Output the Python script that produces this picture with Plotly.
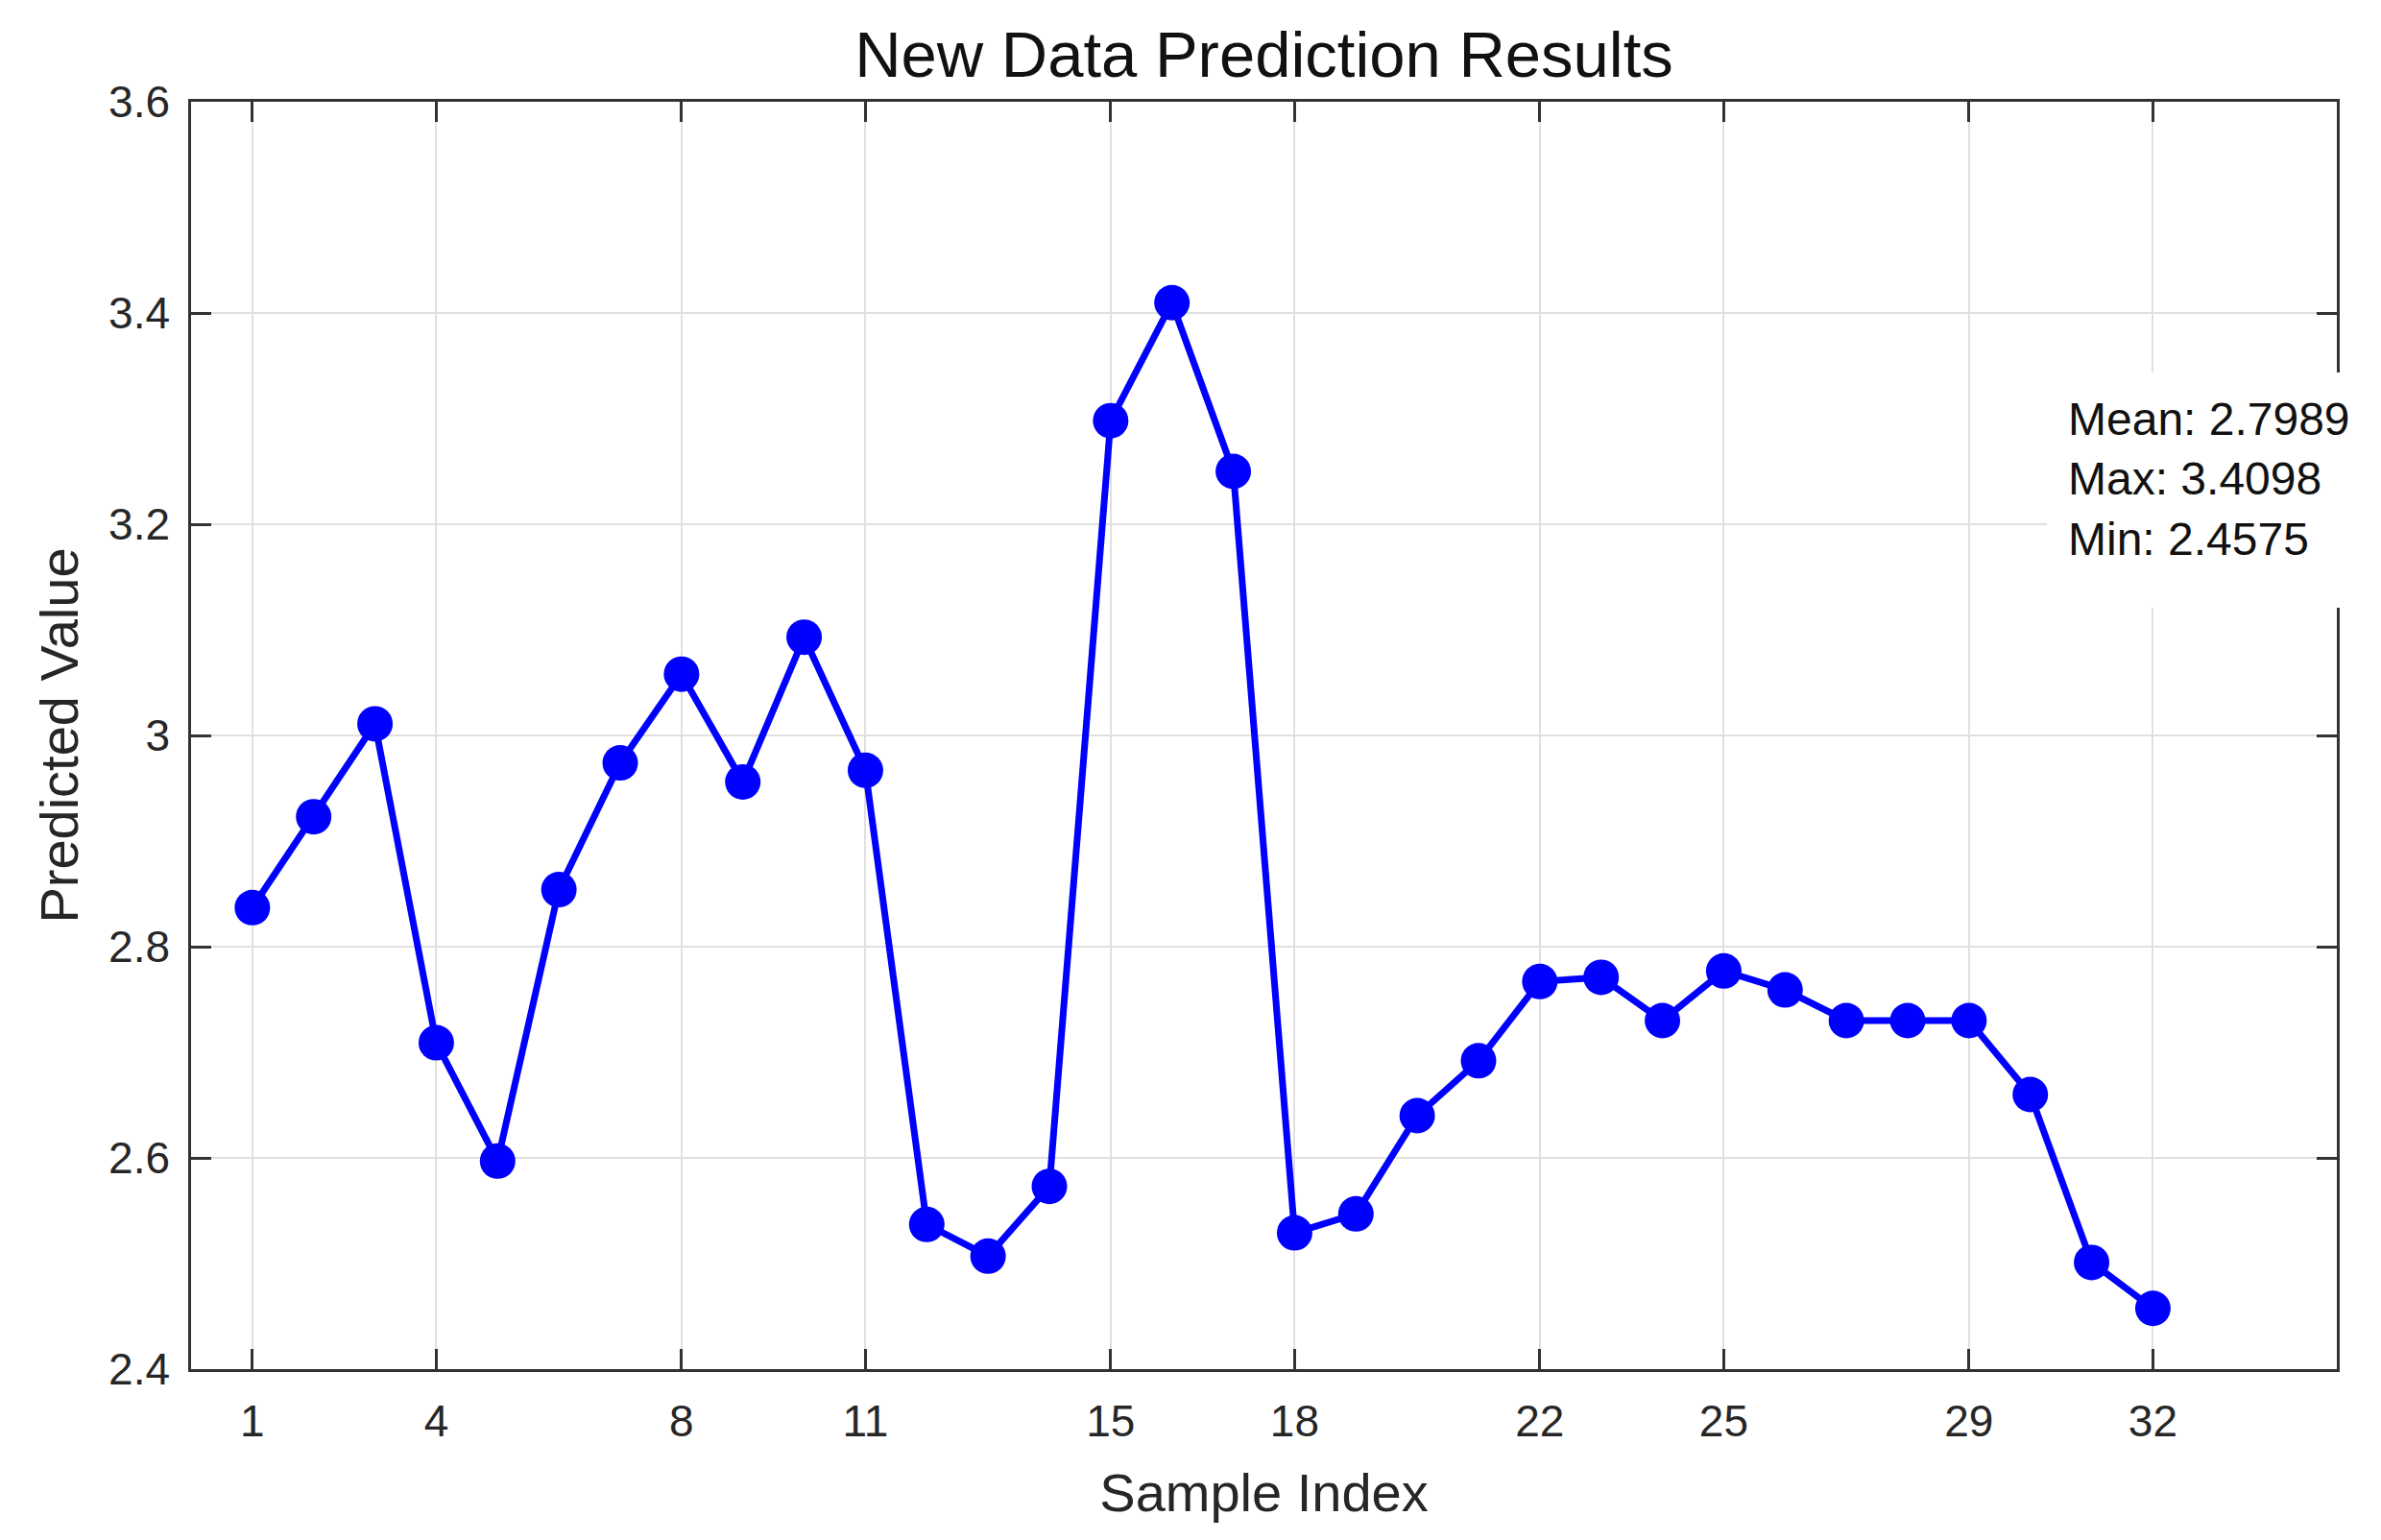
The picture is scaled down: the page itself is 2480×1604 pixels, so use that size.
import plotly.graph_objects as go

# ---- data ----
sample_index = list(range(1, 33))
predicted = [2.837, 2.923, 3.011, 2.709, 2.597, 2.854, 2.974, 3.058, 2.956, 3.093,
             2.967, 2.537, 2.507, 2.573, 3.298, 3.4098, 3.250, 2.529, 2.547, 2.640,
             2.692, 2.767, 2.771, 2.730, 2.777, 2.759, 2.730, 2.730, 2.730, 2.660,
             2.501, 2.4575]
x_tick_vals = [1, 4, 8, 11, 15, 18, 22, 25, 29, 32]
y_tick_vals = [2.4, 2.6, 2.8, 3.0, 3.2, 3.4, 3.6]
y_tick_text = ["2.4", "2.6", "2.8", "3", "3.2", "3.4", "3.6"]
stat_labels = ["Mean", "Max", "Min"]
stat_values = ["2.7989", "3.4098", "2.4575"]

W, H = 2480, 1604
L, R, T, B = 199, 46, 106, 178
FONT = "Liberation Sans, Arial, sans-serif"
AX = "#333333"
GRID = "#e0e0e0"

fig = go.Figure()
fig.add_trace(go.Scatter(
    x=sample_index, y=predicted, mode="lines+markers",
    line=dict(color="#0000ff", width=7),
    marker=dict(color="#0000ff", size=37, line=dict(width=0)),
    showlegend=False, hoverinfo="x+y",
))

axis_common = dict(
    showline=True, linecolor=AX, linewidth=2.5, mirror="ticks",
    ticks="inside", ticklen=21, tickwidth=2.5, tickcolor=AX,
    showgrid=True, gridcolor=GRID, gridwidth=2,
    zeroline=False,
    tickfont=dict(family=FONT, size=46, color="#262626"),
)

fig.update_xaxes(
    range=[0, 35], tickmode="array", tickvals=x_tick_vals,
    ticktext=[str(v) for v in x_tick_vals],
    ticklabelstandoff=12,
    title=dict(text="Sample Index", font=dict(family=FONT, size=56, color="#262626"), standoff=30),
    **axis_common,
)
fig.update_yaxes(
    range=[2.4, 3.6], tickmode="array", tickvals=y_tick_vals, ticktext=y_tick_text,
    ticklabelstandoff=10,
    title=dict(text="Predicted Value", font=dict(family=FONT, size=56, color="#262626"), standoff=14),
    **axis_common,
)

stats_text = "<br>".join(f"{k}: {v}" for k, v in zip(stat_labels, stat_values))
fig.add_annotation(
    text=stats_text, xref="paper", yref="paper",
    x=(2132 - L) / (W - L - R), y=1 - (388 - T) / (H - T - B),
    xanchor="left", yanchor="top", align="left", valign="top", showarrow=False,
    height=201,
    font=dict(family=FONT, size=48, color="#111111"),
    bgcolor="white", borderpad=22, borderwidth=0,
)

fig.update_layout(
    width=W, height=H,
    margin=dict(l=L, r=R, t=T, b=B, autoexpand=False),
    paper_bgcolor="white", plot_bgcolor="white",
    title=dict(text="New Data Prediction Results", x=(L + (W - L - R) / 2) / W, xanchor="center",
               y=1 - 57 / H, yanchor="middle", yref="container",
               font=dict(family=FONT, size=67, color="#111111")),
)

fig.write_html("out.html", config={"displayModeBar": False},
               post_script="document.body.style.margin='0';")
